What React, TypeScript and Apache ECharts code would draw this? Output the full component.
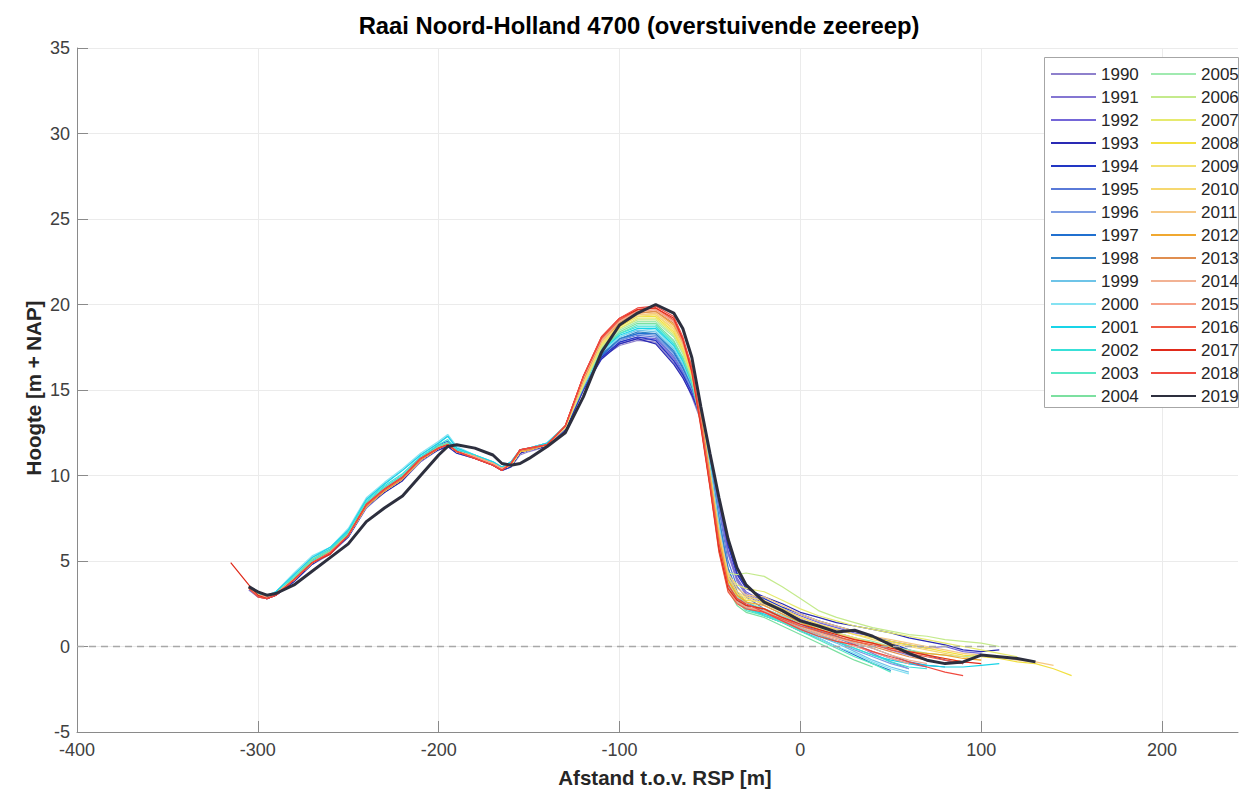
import React, { useEffect, useRef } from "react";
import * as echarts from "echarts";

const TITLE = "Raai Noord-Holland 4700 (overstuivende zeereep)";
const X_NAME = "Afstand t.o.v. RSP [m]";
const Y_NAME = "Hoogte [m + NAP]";
const X_TICKS = [-400, -300, -200, -100, 0, 100, 200];

// Distance grid (m) shared by all profiles
const X = [-315, -305, -300, -295, -290, -280, -270, -260, -250, -240, -230, -220, -210, -200, -195, -190, -180, -170, -165, -160, -155, -150, -140, -130, -120,
  -110, -100, -90, -80, -70, -65, -60, -55, -50, -45, -40, -35, -30,
  -20, -10, 0, 10, 20, 30, 40, 50, 60, 70, 80, 90, 100, 110, 120, 130, 140, 150];

const YEARS = ["1990", "1991", "1992", "1993", "1994", "1995", "1996", "1997", "1998", "1999", "2000", "2001", "2002", "2003", "2004",
  "2005", "2006", "2007", "2008", "2009", "2010", "2011", "2012", "2013", "2014", "2015", "2016", "2017", "2018", "2019"];

const COLORS = ["#8e80cc", "#8476d2", "#7466d8", "#2a2ab4", "#2236c4", "#5a7ad8", "#7c9ce2", "#2070d0", "#3484c8", "#6ec4e8",
  "#84e2f2", "#18d4e8", "#38e0d8", "#58e8c4", "#7ce0a0", "#a0eab0", "#c4ea8c", "#e6ea6e", "#f2e040", "#f2e070",
  "#f6d870", "#f6c884", "#f0a830", "#e08e50", "#f2b294", "#f6a088", "#f05a44", "#e02a1a", "#f04a40", "#2d2f3e"];

const Y1990 = [null, null, 3.0, 2.8, 3.0, 3.8, 4.8, 5.4, 6.4, 8.1, 9.0, 9.7, 10.8, 11.5, 11.7, 11.3, 11.0, 10.6, 10.3, 10.5, 11.2, 11.4, 11.7, 12.6, 15.0,
  16.9, 17.6, 17.9, 17.8, 16.6, 15.8, 14.6, 13.2, 10.9, 8.2, 5.4, 3.8, 3.0,
  2.4, 1.9, 1.4, 1.0, 0.6, 0.1, -0.4, -0.9, -1.3];
const Y1991 = [null, 3.3, 2.9, 2.8, 3.1, 3.9, 4.9, 5.5, 6.5, 8.2, 9.1, 9.8, 10.9, 11.6, 11.8, 11.4, 11.1, 10.7, 10.4, 10.6, 11.3, 11.5, 11.8, 12.7, 15.0,
  17.0, 17.7, 18.0, 17.9, 16.8, 15.9, 14.8, 13.4, 11.0, 8.3, 5.5, 3.9, 3.1,
  2.5, 2.1, 1.6, 1.2, 0.8, 0.5, 0.2, -0.2, -0.5, -0.8, -1.0];
const Y1992 = [null, null, 3.0, 2.8, 3.0, 3.8, 4.9, 5.4, 6.4, 8.1, 9.1, 9.8, 10.8, 11.6, 11.8, 11.4, 11.1, 10.6, 10.3, 10.6, 11.3, 11.5, 11.8, 12.7, 15.1,
  16.9, 17.8, 18.1, 18.0, 16.9, 16.0, 14.9, 13.5, 11.1, 8.4, 5.6, 4.0, 3.2,
  2.6, 2.2, 1.8, 1.4, 1.1, 0.8, 0.6, 0.3, 0.1, -0.1, 0.0, -0.3, -0.4];
const Y1993 = [null, 3.4, 3.0, 2.8, 3.0, 3.8, 4.8, 5.5, 6.5, 8.2, 9.0, 9.7, 10.9, 11.5, 11.7, 11.3, 11.0, 10.6, 10.3, 10.5, 11.3, 11.5, 11.7, 12.6, 15.0,
  16.8, 17.7, 18.0, 17.7, 16.5, 15.7, 14.7, 13.4, 11.2, 8.6, 5.9, 4.2, 3.4,
  2.9, 2.5, 2.0, 1.7, 1.4, 1.2, 1.0, 0.8, 0.5, 0.3, 0.1, -0.2, -0.3, -0.2];
const Y1994 = [null, null, 3.1, 2.9, 3.0, 3.9, 4.9, 5.5, 6.4, 8.2, 9.1, 9.8, 10.9, 11.6, 11.8, 11.4, 11.1, 10.7, 10.4, 10.6, 11.4, 11.5, 11.8, 12.7, 15.1,
  16.9, 17.8, 18.1, 17.9, 16.7, 15.9, 14.9, 13.6, 11.3, 8.7, 6.0, 4.3, 3.5,
  2.8, 2.3, 1.9, 1.5, 1.2, 0.9, 0.6, 0.2, -0.2, -0.5, -0.8, -1.0];
const Y1995 = [null, 3.5, 3.0, 2.9, 3.1, 3.9, 4.9, 5.5, 6.5, 8.2, 9.1, 9.9, 10.9, 11.6, 11.9, 11.4, 11.1, 10.7, 10.4, 10.6, 11.4, 11.5, 11.8, 12.8, 15.1,
  17.0, 17.9, 18.2, 18.1, 17.0, 16.1, 15.0, 13.5, 11.0, 8.0, 5.0, 3.5, 2.9,
  2.2, 1.8, 1.3, 0.9, 0.5, 0.1, -0.3, -0.7, -1.0, -1.2];
const Y1996 = [null, null, 3.0, 2.9, 3.1, 4.0, 5.0, 5.6, 6.6, 8.3, 9.2, 9.9, 11.0, 11.7, 11.9, 11.4, 11.1, 10.7, 10.4, 10.7, 11.4, 11.6, 11.8, 12.8, 15.2,
  17.1, 17.9, 18.3, 18.2, 17.1, 16.2, 15.1, 13.5, 10.8, 7.6, 4.6, 3.2, 2.6,
  2.0, 1.6, 1.1, 0.7, 0.3, -0.2, -0.6, -1.0, -1.3];
const Y1997 = [null, 3.4, 3.0, 2.9, 3.1, 4.0, 5.0, 5.6, 6.7, 8.4, 9.3, 10.0, 11.0, 11.8, 12.0, 11.5, 11.1, 10.7, 10.4, 10.7, 11.5, 11.6, 11.9, 12.8, 15.2,
  17.0, 18.0, 18.3, 18.3, 17.2, 16.3, 15.2, 13.6, 10.7, 7.3, 4.3, 3.0, 2.4,
  1.8, 1.4, 0.9, 0.5, 0.0, -0.5, -1.0, -1.4];
const Y1998 = [null, null, 3.1, 2.9, 3.1, 3.9, 5.0, 5.6, 6.6, 8.3, 9.2, 9.9, 11.0, 11.7, 11.9, 11.4, 11.1, 10.7, 10.4, 10.6, 11.4, 11.6, 11.8, 12.8, 15.2,
  17.1, 18.0, 18.4, 18.3, 17.3, 16.4, 15.2, 13.7, 10.8, 7.5, 4.6, 3.2, 2.6,
  2.1, 1.7, 1.2, 0.9, 0.6, 0.2, -0.1, -0.5, -0.9, -1.1, -1.2];
const Y1999 = [null, 3.5, 3.1, 3.0, 3.2, 4.2, 5.2, 5.7, 6.8, 8.6, 9.5, 10.3, 11.2, 11.9, 12.3, 11.6, 11.2, 10.8, 10.5, 10.8, 11.5, 11.6, 11.9, 12.9, 15.2,
  17.2, 18.1, 18.5, 18.4, 17.4, 16.5, 15.3, 13.6, 10.7, 7.2, 4.1, 2.9, 2.3,
  1.9, 1.5, 1.0, 0.6, 0.2, -0.3, -0.8, -1.2, -1.5];
const Y2000 = [null, null, 3.1, 3.0, 3.2, 4.3, 5.3, 5.8, 6.9, 8.7, 9.6, 10.4, 11.3, 12.0, 12.4, 11.7, 11.2, 10.8, 10.5, 10.8, 11.5, 11.6, 11.9, 12.9, 15.3,
  17.2, 18.1, 18.6, 18.5, 17.5, 16.6, 15.4, 13.5, 10.5, 7.0, 3.9, 2.8, 2.3,
  1.9, 1.4, 1.0, 0.5, 0.0, -0.4, -0.9, -1.3, -1.6];
const Y2001 = [null, 3.4, 3.0, 2.9, 3.2, 4.2, 5.2, 5.8, 6.8, 8.6, 9.5, 10.3, 11.2, 11.9, 12.3, 11.6, 11.2, 10.8, 10.5, 10.8, 11.5, 11.6, 11.9, 12.9, 15.3,
  17.3, 18.2, 18.6, 18.6, 17.6, 16.7, 15.4, 13.4, 10.4, 6.8, 3.7, 2.7, 2.2,
  1.9, 1.5, 1.1, 0.7, 0.3, -0.1, -0.5, -0.8, -1.0, -1.1, -1.2, -1.2, -1.1, -1.0];
const Y2002 = [null, null, 3.0, 2.9, 3.1, 4.1, 5.1, 5.7, 6.7, 8.5, 9.4, 10.1, 11.1, 11.8, 12.1, 11.5, 11.2, 10.7, 10.4, 10.7, 11.4, 11.6, 11.8, 12.9, 15.3,
  17.3, 18.3, 18.7, 18.7, 17.7, 16.8, 15.5, 13.4, 10.3, 6.7, 3.6, 2.7, 2.2,
  1.8, 1.4, 1.0, 0.6, 0.3, -0.1, -0.5, -0.9, -1.2, -1.3];
const Y2003 = [null, 3.5, 3.1, 3.0, 3.1, 4.0, 5.0, 5.6, 6.6, 8.4, 9.3, 10.0, 11.0, 11.7, 11.9, 11.4, 11.1, 10.7, 10.4, 10.6, 11.4, 11.5, 11.8, 12.8, 15.3,
  17.4, 18.3, 18.8, 18.8, 17.8, 16.9, 15.6, 13.3, 10.1, 6.4, 3.4, 2.6, 2.1,
  1.8, 1.4, 0.9, 0.4, -0.1, -0.6, -1.0, -1.5];
const Y2004 = [null, null, 3.0, 2.9, 3.1, 4.0, 5.1, 5.6, 6.6, 8.3, 9.2, 9.9, 11.0, 11.7, 11.9, 11.4, 11.1, 10.7, 10.4, 10.6, 11.4, 11.5, 11.8, 12.8, 15.3,
  17.4, 18.4, 18.9, 18.9, 17.9, 16.9, 15.5, 13.0, 9.5, 5.6, 3.3, 2.4, 2.0,
  1.7, 1.2, 0.7, 0.2, -0.3, -0.8, -1.2];
const Y2005 = [null, 3.4, 3.0, 2.9, 3.1, 3.9, 4.9, 5.5, 6.5, 8.2, 9.1, 9.8, 10.9, 11.6, 11.8, 11.4, 11.1, 10.7, 10.4, 10.6, 11.4, 11.5, 11.8, 12.8, 15.2,
  17.5, 18.5, 19.0, 19.0, 18.1, 17.1, 15.7, 13.2, 9.8, 6.0, 3.6, 2.9, 2.6,
  2.2, 1.8, 1.4, 1.1, 0.8, 0.5, 0.3, 0.0, -0.2, -0.4, -0.5, -0.6, -0.5];
const Y2006 = [null, null, 3.0, 2.9, 3.1, 3.9, 4.9, 5.5, 6.5, 8.2, 9.1, 9.8, 10.9, 11.6, 11.8, 11.4, 11.1, 10.7, 10.4, 10.6, 11.4, 11.5, 11.8, 12.8, 15.3,
  17.5, 18.6, 19.1, 19.1, 18.2, 17.2, 15.8, 13.3, 10.0, 6.5, 4.3, 4.2, 4.3,
  4.1, 3.5, 2.8, 2.1, 1.7, 1.4, 1.1, 0.9, 0.7, 0.6, 0.4, 0.3, 0.2, 0.0];
const Y2007 = [null, 3.5, 3.0, 2.9, 3.1, 3.9, 4.9, 5.5, 6.5, 8.2, 9.1, 9.8, 10.9, 11.6, 11.8, 11.4, 11.1, 10.7, 10.4, 10.6, 11.4, 11.5, 11.8, 12.8, 15.3,
  17.6, 18.6, 19.2, 19.2, 18.3, 17.3, 15.9, 13.4, 10.1, 6.6, 4.2, 3.6, 3.4,
  3.2, 2.7, 2.2, 1.8, 1.5, 1.2, 1.0, 0.8, 0.6, 0.4, 0.2, 0.0, -0.2, -0.4, -0.6];
const Y2008 = [null, null, 3.0, 2.9, 3.1, 3.9, 4.9, 5.5, 6.5, 8.2, 9.1, 9.8, 10.9, 11.6, 11.8, 11.4, 11.1, 10.7, 10.4, 10.6, 11.4, 11.5, 11.8, 12.8, 15.4,
  17.7, 18.7, 19.3, 19.3, 18.4, 17.4, 15.9, 13.3, 9.9, 6.3, 3.8, 3.0, 2.7,
  2.6, 2.2, 1.7, 1.3, 1.0, 0.7, 0.5, 0.3, 0.1, -0.1, -0.3, -0.5, -0.6, -0.7, -0.9, -1.0, -1.3, -1.7];
const Y2009 = [null, 3.4, 3.0, 2.9, 3.1, 3.9, 4.9, 5.5, 6.5, 8.2, 9.1, 9.8, 10.9, 11.6, 11.8, 11.4, 11.1, 10.7, 10.4, 10.6, 11.4, 11.5, 11.8, 12.8, 15.4,
  17.7, 18.8, 19.3, 19.4, 18.5, 17.5, 16.0, 13.4, 10.0, 6.4, 3.9, 3.1, 2.8,
  2.5, 2.0, 1.5, 1.1, 0.8, 0.5, 0.2, -0.1, -0.3, -0.5, -0.7, -0.9];
const Y2010 = [null, null, 3.0, 2.9, 3.1, 3.9, 4.9, 5.5, 6.5, 8.2, 9.1, 9.8, 10.9, 11.6, 11.8, 11.4, 11.1, 10.7, 10.4, 10.6, 11.4, 11.5, 11.8, 12.8, 15.4,
  17.8, 18.8, 19.4, 19.4, 18.6, 17.6, 16.1, 13.5, 10.2, 6.7, 4.1, 3.2, 2.9,
  2.7, 2.2, 1.7, 1.3, 1.0, 0.7, 0.4, 0.2, 0.0, -0.2, -0.4, -0.6, -0.8];
const Y2011 = [null, 3.5, 3.0, 2.9, 3.1, 3.9, 4.9, 5.5, 6.5, 8.2, 9.1, 9.8, 10.9, 11.6, 11.8, 11.4, 11.1, 10.7, 10.4, 10.6, 11.4, 11.5, 11.8, 12.8, 15.5,
  17.8, 18.9, 19.4, 19.5, 18.7, 17.7, 16.2, 13.6, 10.3, 6.8, 4.3, 3.4, 3.0,
  2.9, 2.4, 1.9, 1.5, 1.2, 0.9, 0.6, 0.4, 0.2, 0.0, -0.2, -0.4, -0.5, -0.6, -0.8, -0.9, -1.1];
const Y2012 = [null, null, 3.0, 2.9, 3.1, 3.9, 4.9, 5.5, 6.5, 8.2, 9.1, 9.8, 10.9, 11.6, 11.8, 11.4, 11.1, 10.7, 10.4, 10.7, 11.4, 11.5, 11.8, 12.9, 15.6,
  17.9, 18.9, 19.5, 19.6, 18.8, 17.8, 16.3, 13.5, 10.0, 6.4, 3.9, 3.0, 2.6,
  2.4, 1.9, 1.4, 1.0, 0.7, 0.4, 0.2, 0.0, -0.3, -0.4, -0.5, -0.7, -0.8];
const Y2013 = [null, 3.4, 3.0, 2.9, 3.1, 3.9, 4.9, 5.5, 6.5, 8.2, 9.1, 9.8, 10.9, 11.6, 11.8, 11.4, 11.1, 10.7, 10.4, 10.7, 11.5, 11.5, 11.8, 12.9, 15.6,
  17.9, 19.0, 19.5, 19.6, 18.9, 17.9, 16.4, 13.4, 9.8, 6.0, 3.6, 2.8, 2.4,
  2.2, 1.7, 1.2, 0.8, 0.5, 0.3, 0.0, -0.3, -0.6, -0.8, -1.0];
const Y2014 = [null, null, 3.0, 2.9, 3.1, 3.9, 4.9, 5.5, 6.5, 8.3, 9.2, 9.9, 11.0, 11.6, 11.8, 11.4, 11.1, 10.7, 10.4, 10.7, 11.5, 11.6, 11.8, 12.9, 15.7,
  17.9, 19.0, 19.6, 19.7, 19.0, 17.9, 16.3, 13.2, 9.6, 5.8, 3.4, 2.6, 2.3,
  2.1, 1.6, 1.2, 0.8, 0.5, 0.2, -0.1, -0.5, -0.8, -1.0];
const Y2015 = [null, 3.5, 3.0, 2.9, 3.1, 3.9, 4.9, 5.5, 6.5, 8.3, 9.2, 9.9, 11.0, 11.6, 11.8, 11.4, 11.1, 10.7, 10.4, 10.7, 11.5, 11.6, 11.8, 12.9, 15.7,
  18.0, 19.1, 19.6, 19.7, 19.0, 17.8, 16.1, 13.0, 9.4, 5.6, 3.3, 2.6, 2.3,
  2.0, 1.5, 1.1, 0.7, 0.4, 0.0, -0.3, -0.7, -1.0];
const Y2016 = [null, null, 2.9, 2.8, 3.0, 3.9, 4.9, 5.4, 6.5, 8.3, 9.2, 9.9, 11.0, 11.6, 11.8, 11.4, 11.0, 10.6, 10.3, 10.7, 11.5, 11.6, 11.8, 12.9, 15.8,
  18.0, 19.1, 19.7, 19.8, 19.1, 17.9, 16.0, 12.8, 9.3, 5.5, 3.2, 2.5, 2.2,
  2.0, 1.6, 1.2, 0.9, 0.6, 0.3, 0.1, -0.2, -0.4, -0.6, -0.8, -1.0];
const Y2017 = [4.9, 3.6, 3.0, 2.8, 3.0, 3.9, 4.9, 5.4, 6.5, 8.3, 9.2, 9.9, 11.0, 11.6, 11.8, 11.4, 11.0, 10.6, 10.3, 10.7, 11.5, 11.6, 11.8, 12.9, 15.8,
  18.1, 19.2, 19.7, 19.8, 19.2, 18.0, 16.1, 12.9, 9.4, 5.7, 3.4, 2.7, 2.4,
  2.2, 1.7, 1.3, 1.0, 0.7, 0.4, 0.2, -0.1, -0.3, -0.5, -0.7, -0.9, -1.0];
const Y2018 = [null, 3.4, 2.9, 2.8, 3.0, 3.9, 4.9, 5.5, 6.5, 8.3, 9.2, 9.9, 11.0, 11.6, 11.8, 11.4, 11.0, 10.6, 10.3, 10.7, 11.5, 11.6, 11.8, 12.9, 15.8,
  18.1, 19.2, 19.8, 19.9, 19.3, 18.1, 16.3, 13.1, 9.6, 6.0, 3.6, 2.8, 2.5,
  2.0, 1.5, 1.0, 0.6, 0.3, 0.1, -0.3, -0.6, -0.9, -1.2, -1.5, -1.7];
const Y2019 = [null, 3.5, 3.2, 3.0, 3.1, 3.6, 4.4, 5.2, 6.0, 7.3, 8.1, 8.8, 10.0, 11.2, 11.7, 11.8, 11.6, 11.2, 10.7, 10.6, 10.7, 11.0, 11.7, 12.5, 14.6,
  17.2, 18.8, 19.5, 20.0, 19.5, 18.6, 16.9, 14.0, 11.3, 8.7, 6.3, 4.6, 3.6,
  2.6, 2.1, 1.5, 1.2, 0.85, 0.95, 0.6, 0.1, -0.4, -0.8, -1.0, -0.9, -0.5, -0.6, -0.7, -0.9];

const PROFILES = [Y1990, Y1991, Y1992, Y1993, Y1994, Y1995, Y1996, Y1997, Y1998, Y1999, Y2000, Y2001, Y2002, Y2003, Y2004,
  Y2005, Y2006, Y2007, Y2008, Y2009, Y2010, Y2011, Y2012, Y2013, Y2014, Y2015, Y2016, Y2017, Y2018, Y2019];

const FONT = "'Liberation Sans', Arial, Helvetica, sans-serif";

export default function App() {
  const ref = useRef<HTMLDivElement>(null);
  useEffect(() => {
    if (!ref.current) return;
    const chart = echarts.init(ref.current, null, { renderer: "svg" });
    const series: any[] = PROFILES.map((vals, i) => {
      const data: number[][] = [];
      vals.forEach((v, k) => {
        if (v !== null && v !== undefined) data.push([X[k], v as number]);
      });
      const last = i === PROFILES.length - 1;
      const s: any = {
        type: "line",
        name: YEARS[i],
        data,
        symbol: "none",
        showSymbol: false,
        smooth: false,
        lineStyle: { color: COLORS[i], width: last ? 3 : 1.2 },
        itemStyle: { color: COLORS[i] },
        emphasis: { disabled: true },
        z: 3,
      };
      if (i === 0) {
        s.markLine = {
          silent: true,
          symbol: "none",
          label: { show: false },
          lineStyle: { color: "#a8a8a8", width: 1.3, type: [7, 5] },
          data: [{ yAxis: 0 }],
        };
      }
      return s;
    });

    const legendBase = {
      orient: "vertical",
      top: 65.5,
      itemWidth: 45,
      itemHeight: 2,
      itemGap: 6,
      padding: 0,
      selectedMode: false,
      z: 20,
      itemStyle: { opacity: 0 },
      textStyle: { fontSize: 17, color: "#262626", lineHeight: 17, fontFamily: FONT },
    };

    const option: any = {
      animation: false,
      backgroundColor: "#ffffff",
      textStyle: { fontFamily: FONT },
      grid: { left: 77, top: 48, right: 1, bottom: 64, containLabel: false },
      xAxis: {
        type: "value",
        min: -400,
        max: 242,
        interval: 100,
        axisLine: { show: true, onZero: false, lineStyle: { color: "#8a8a8a", width: 1 } },
        axisTick: { show: true, inside: true, length: 11, customValues: X_TICKS, lineStyle: { color: "#8a8a8a" } },
        axisLabel: { customValues: X_TICKS, fontSize: 18, color: "#404040", margin: 9, fontFamily: FONT },
        splitLine: { show: true, lineStyle: { color: "#ebebeb", width: 1 } },
      },
      yAxis: {
        type: "value",
        min: -5,
        max: 35,
        interval: 5,
        axisLine: { show: true, onZero: false, lineStyle: { color: "#8a8a8a", width: 1 } },
        axisTick: { show: true, inside: true, length: 11, lineStyle: { color: "#8a8a8a" } },
        axisLabel: { fontSize: 18, color: "#404040", margin: 7, fontFamily: FONT },
        splitLine: { show: true, lineStyle: { color: "#ebebeb", width: 1 } },
      },
      legend: [
        { ...legendBase, left: 1050, data: YEARS.slice(0, 15) },
        { ...legendBase, left: 1150, data: YEARS.slice(15) },
      ],
      graphic: [
        {
          type: "rect",
          z: 10,
          shape: { x: 1044.5, y: 57.5, width: 194, height: 350 },
          style: { fill: "#ffffff", stroke: "#a6a6a6", lineWidth: 1 },
        },
        {
          type: "text",
          x: 639,
          y: 25,
          style: { text: TITLE, fontSize: 23.8, fontWeight: "bold", fontFamily: FONT, fill: "#000", align: "center", verticalAlign: "middle" },
        },
        {
          type: "text",
          x: 665,
          y: 777,
          style: { text: X_NAME, fontSize: 20.5, fontWeight: "bold", fontFamily: FONT, fill: "#262626", align: "center", verticalAlign: "middle" },
        },
        {
          type: "text",
          x: 33,
          y: 388,
          rotation: Math.PI / 2,
          style: { text: Y_NAME, fontSize: 20.5, fontWeight: "bold", fontFamily: FONT, fill: "#262626", align: "center", verticalAlign: "middle" },
        },
      ],
      series,
    };
    chart.setOption(option);
    return () => chart.dispose();
  }, []);
  return (
    <div
      ref={ref}
      style={{ position: "fixed", left: 0, top: 0, width: 1239, height: 796, background: "#fff" }}
    />
  );
}
